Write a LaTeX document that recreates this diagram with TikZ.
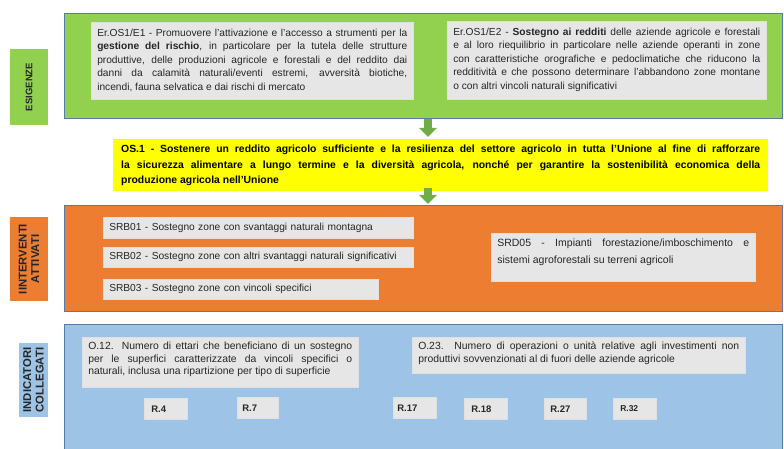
\documentclass[tikz,border=0pt]{standalone}
\usepackage{fontspec}
\setmainfont{Liberation Sans}
\usetikzlibrary{arrows.meta}
\definecolor{verde}{HTML}{92D050}
\definecolor{arancio}{HTML}{ED7D31}
\definecolor{azzurro}{HTML}{9DC3E6}
\definecolor{giallo}{HTML}{FFFF00}
\definecolor{grigio}{HTML}{E7E6E6}
\definecolor{bordo}{HTML}{5A7AA6}
\definecolor{frecciaverde}{HTML}{70AD47}
\newcommand{\riquadro}[3]{\parbox[t][#2][t]{#1}{#3}}

\begin{document}
\begin{tikzpicture}[x=1pt,y=-1pt,
	fascia/.style={draw=bordo,line width=1.2pt,anchor=north west,inner sep=0pt,minimum width=718pt},
	titolo/.style={rotate=90,inner sep=0pt,minimum height=38pt,font=\bfseries\fontsize{11.3}{12.5}\selectfont,align=center,text=black!85},
	scheda/.style={fill=grigio,draw=black!12,line width=.5pt,anchor=north west,inner xsep=6pt,inner ysep=6.5pt,font=\fontsize{10.2}{13.5}\selectfont,text=black!85},
	voce/.style={scheda,inner ysep=0pt,align=left},
	risultato/.style={scheda,inner ysep=0pt,inner xsep=7pt,text width=29pt,align=left,minimum height=21pt,font=\bfseries\fontsize{9.5}{11}\selectfont},
	freccia/.style={draw=frecciaverde,line width=8pt,-{Triangle[width=17pt,length=9pt]}}]
	\useasboundingbox (0,0) rectangle (784,449);
	\node[fascia,fill=verde,minimum height=105pt] (esig) at (64,13) {};
	\node[fascia,fill=arancio,minimum height=106pt] (interv) at (64,205) {};
	\node[fascia,fill=azzurro,minimum height=130pt] (indic) at (64,324) {};
	\node[titolo,fill=verde,minimum width=76pt,font=\bfseries\fontsize{9.5}{12}\selectfont] (lab1) at (29,87) {ESIGENZE};
	\node[titolo,fill=arancio,minimum width=84pt] (lab2) at (29,259) {IINTERVENTI\\ATTIVATI};
	\node[titolo,fill=azzurro,minimum width=74pt,minimum height=29pt] (lab3) at (33.5,380) {INDICATORI\\COLLEGATI};
	\node[scheda] (e1) at (91,22) {\riquadro{310pt}{64pt}{Er.OS1/E1 - Promuovere l'attivazione e l'accesso a strumenti per la\linebreak
		\textbf{gestione del rischio}, in particolare per la tutela delle strutture\linebreak
		produttive, delle produzioni agricole e forestali e del reddito dai\linebreak
		danni da calamità naturali/eventi estremi, avversità biotiche,\linebreak
		incendi, fauna selvatica e dai rischi di mercato}};
	\node[scheda] (e2) at (447,21) {\riquadro{307pt}{65pt}{Er.OS1/E2 - \textbf{Sostegno ai redditi} delle aziende agricole e forestali\linebreak
		e al loro riequilibrio in particolare nelle aziende operanti in zone\linebreak
		con caratteristiche orografiche e pedoclimatiche che riducono la\linebreak
		redditività e che possono determinare l'abbandono zone montane\linebreak
		o con altri vincoli naturali significativi}};
	\node[anchor=north west,fill=giallo,inner xsep=8pt,inner ysep=6pt,font=\bfseries\fontsize{10.4}{15.5}\selectfont] (os1) at (113,139) {\riquadro{639pt}{40pt}{OS.1 - Sostenere un reddito agricolo sufficiente e la resilienza del settore agricolo in tutta l’Unione al fine di rafforzare\linebreak
		la sicurezza alimentare a lungo termine e la diversità agricola, nonché per garantire la sostenibilità economica della\linebreak
		produzione agricola nell’Unione}};
	\coordinate (asse) at (428,0);
	\draw[freccia,shorten >=2pt] (esig.south -| asse) -- (os1.north -| asse);
	\draw[freccia,shorten <=-3pt,shorten >=1pt] (os1.south -| asse) -- (interv.north -| asse);
	\node[voce,text width=298pt,minimum height=21pt] (srb1) at (103,217) {SRB01 - Sostegno zone con svantaggi naturali montagna};
	\node[voce,text width=298pt,minimum height=20pt] (srb2) at (103,247) {SRB02 - Sostegno zone con altri svantaggi naturali significativi};
	\node[voce,text width=263pt,minimum height=20pt] (srb3) at (103,279) {SRB03 - Sostegno zone con vincoli specifici};
	\node[scheda,inner ysep=6pt,font=\fontsize{10.5}{16.5}\selectfont] (srd5) at (491,233) {\riquadro{252pt}{36pt}{SRD05 - Impianti forestazione/imboschimento e\linebreak
		sistemi agroforestali su terreni agricoli}};
	\node[scheda,inner ysep=5pt,font=\fontsize{10.4}{12.5}\selectfont] (o12) at (82,337) {\riquadro{264pt}{40pt}{O.12. Numero di ettari che beneficiano di un sostegno\linebreak
		per le superfici caratterizzate da vincoli specifici o\linebreak
		naturali, inclusa una ripartizione per tipo di superficie}};
	\node[scheda,inner ysep=5pt,font=\fontsize{10.4}{12.5}\selectfont] (o23) at (412,337) {\riquadro{321pt}{26pt}{O.23. Numero di operazioni o unità relative agli investimenti non\linebreak
		produttivi sovvenzionati al di fuori delle aziende agricole}};
	\node[risultato] (r4) at (144,398) {R.4};
	\node[risultato,inner xsep=5pt,text width=31pt] (r7) at (237,397) {R.7};
	\node[risultato,inner xsep=4pt,text width=35pt] (r17) at (393,397) {R.17};
	\node[risultato] (r18) at (464,398) {R.18};
	\node[risultato,inner xsep=6pt,text width=30pt] (r27) at (544,398) {R.27};
	\node[risultato,font=\bfseries\fontsize{8.5}{10}\selectfont] (r32) at (613,398) {R.32};
\end{tikzpicture}
\end{document}
